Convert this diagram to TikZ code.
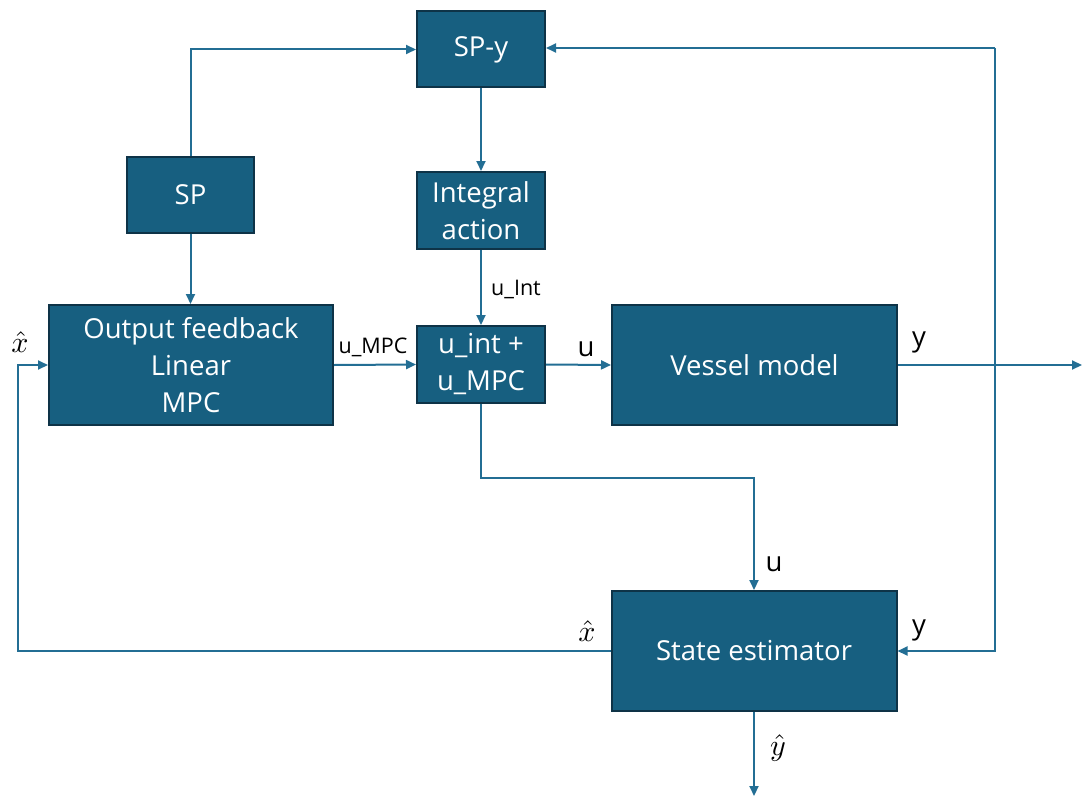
\documentclass[tikz,border=0pt]{standalone}
\usepackage{fontspec}
\setmainfont{Open Sans}
\usetikzlibrary{arrows.meta}
\definecolor{boxfill}{HTML}{175F80}
\definecolor{boxedge}{HTML}{0E3347}
\definecolor{wire}{HTML}{236E94}

\begin{document}
\begin{tikzpicture}[x=1pt,y=-1pt,
  blk/.style={draw=boxedge, line width=2pt, fill=boxfill, text=white,
    inner sep=0pt, align=center, font=\fontsize{27.5}{37}\selectfont},
  sig/.style={draw=wire, line width=2pt, -{Triangle[length=10pt,width=9pt]}},
  lbl/.style={font=\fontsize{21.5}{24}\selectfont, text=black, inner sep=2pt},
  biglbl/.style={font=\fontsize{27.5}{30}\selectfont, text=black, inner sep=2pt},
  mathlbl/.style={scale=3, text=black, inner sep=1pt}]

\useasboundingbox (0,0) rectangle (1083,797);

% blocks
\node[blk, minimum width=128pt, minimum height=76pt] (SPy) at (481,49.5) {SP-y};
\node[blk, minimum width=127pt, minimum height=76pt] (SP) at (190.5,195) {SP};
\node[blk, minimum width=128pt, minimum height=77pt] (Int) at (481,210.5) {Integral\\action};
\node[blk, minimum width=128pt, minimum height=77pt] (Sum) at (481,364.5) {u\_int +\\u\_MPC};
\node[blk, minimum width=284pt, minimum height=120pt] (MPC) at (191,365) {Output feedback\\Linear\\MPC};
\node[blk, minimum width=285pt, minimum height=120pt] (Ves) at (754.5,365) {Vessel model};
\node[blk, minimum width=285pt, minimum height=120pt] (Est) at (754,651) {State estimator};

% free ends and corners
\coordinate (rt) at (995,48);
\coordinate (rb) at (995,651);
\coordinate (yout) at (1082,365);
\coordinate (yhat) at (754,796);
\coordinate (uc) at (481,478);
\coordinate (xc) at (18,651);

% set point paths
\draw[sig] (SP.north) -- (SP.north |- SPy.west) -- (SPy.west);
\draw[sig] (SP.south) -- (SP.south |- MPC.north);
\draw[sig] (SPy.south) -- (Int.north);
\draw[sig] (rt) -- (SPy.east |- rt);
\draw[sig] (rt) -- (rb) -- (Est.east);

% control signals
\draw[sig] (Int.south) -- (Sum.north);
\draw[sig] (MPC.east) -- (Sum.west);
\draw[sig] (Sum.east) -- (Ves.west);
\draw[sig] (Ves.east) -- (yout);
\draw[sig] (Sum.south) -- (uc) -| (Est.north);

% estimator outputs
\draw[sig] (Est.west) -- (xc) |- (MPC.west);
\draw[sig] (Est.south) -- (yhat);

% signal labels
\node[lbl] (lInt) at (516,289) {u\_Int};
\node[lbl] (lMPC) at (373,347) {u\_MPC};
\node[biglbl] (lu1) at (586,349) {u};
\node[biglbl] (ly1) at (919,342) {y};
\node[biglbl] (lu2) at (774,564) {u};
\node[biglbl] (ly2) at (919,630) {y};
\node[mathlbl] (lx1) at (20,342) {$\hat{x}$};
\node[mathlbl] (lx2) at (587,631) {$\hat{x}$};
\node[mathlbl] (lyh) at (778,748) {$\hat{y}$};
\end{tikzpicture}
\end{document}
